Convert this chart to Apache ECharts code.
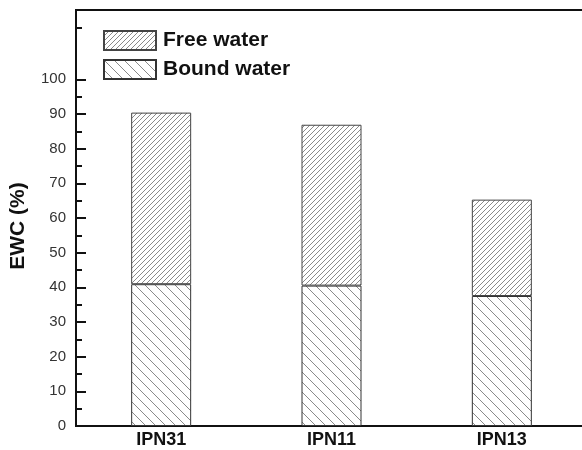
<!DOCTYPE html>
<html>
<head>
<meta charset="utf-8">
<script src="https://cdn.jsdelivr.net/npm/echarts@6/dist/echarts.min.js"></script>
<style>
  html, body { margin: 0; padding: 0; background: #fff; overflow: hidden; width: 582px; height: 450px; }
  #chart { width: 640px; height: 450px; }
</style>
</head>
<body>
<div id="chart"></div>
<script>
// Samples and measured water content (%)
const categories = ['IPN31', 'IPN11', 'IPN13'];
const boundWater = [40.9, 40.5, 37.5];
const freeWater = [49.5, 46.4, 27.8];
const majorTicks = [0, 10, 20, 30, 40, 50, 60, 70, 80, 90, 100];
const minorTicks = [5, 15, 25, 35, 45, 55, 65, 75, 85, 95, 115];

const FONT = '"Liberation Sans", Arial, sans-serif';

// Build a small tile with one diagonal hatch line for pattern fills
function hatchTile(size, dir, color) {
  const c = document.createElement('canvas');
  c.width = size; c.height = size;
  const g = c.getContext('2d');
  g.fillStyle = '#ffffff';
  g.fillRect(0, 0, size, size);
  g.strokeStyle = color;
  g.lineWidth = 1;
  g.beginPath();
  if (dir === '/') {
    g.moveTo(0, size); g.lineTo(size, 0);
    g.moveTo(-1, 1); g.lineTo(1, -1);
    g.moveTo(size - 1, size + 1); g.lineTo(size + 1, size - 1);
  } else {
    g.moveTo(0, 0); g.lineTo(size, size);
    g.moveTo(size - 1, -1); g.lineTo(size + 1, 1);
    g.moveTo(-1, size - 1); g.lineTo(1, size + 1);
  }
  g.stroke();
  return c;
}

const freeFill = { image: hatchTile(5, '/', '#8a8a8a'), repeat: 'repeat' };
const boundFill = { image: hatchTile(10, '\\', '#8a8a8a'), repeat: 'repeat' };

const chart = echarts.init(document.getElementById('chart'), null, { renderer: 'canvas' });

chart.setOption({
  backgroundColor: '#ffffff',
  animation: false,
  // plot frame runs past the right edge of the visible area
  grid: {
    left: 76, right: 53, top: 10, bottom: 24,
    show: true, borderColor: '#111', borderWidth: 2, backgroundColor: 'transparent'
  },
  legend: {
    orient: 'vertical',
    left: 103, top: 30,
    padding: 0,
    itemGap: 8,
    itemWidth: 52, itemHeight: 19,
    icon: 'rect',
    data: ['Free water', 'Bound water'],
    textStyle: { fontFamily: FONT, fontSize: 21, fontWeight: 'bold', color: '#111', lineHeight: 19, padding: [0, 0, 0, 2] }
  },
  xAxis: {
    type: 'category',
    data: categories,
    axisLine: { lineStyle: { color: '#111', width: 2 } },
    axisTick: { show: false },
    axisLabel: { fontFamily: FONT, fontSize: 18, fontWeight: 'bold', color: '#111', margin: 5 },
    splitLine: { show: false }
  },
  yAxis: [
    {
      type: 'value', min: 0, max: 120, interval: 10,
      axisLine: { show: true, lineStyle: { color: '#111', width: 2 } },
      axisTick: { show: true, inside: true, length: 10, lineStyle: { color: '#111', width: 2 }, customValues: majorTicks },
      axisLabel: { fontFamily: FONT, fontSize: 15, color: '#333', margin: 10, customValues: majorTicks },
      splitLine: { show: false }
    },
    {
      type: 'value', min: 0, max: 120, position: 'left', offset: 0,
      axisLine: { show: false },
      axisTick: { show: true, inside: true, length: 6, lineStyle: { color: '#111', width: 2 }, customValues: minorTicks },
      axisLabel: { show: false },
      splitLine: { show: false }
    }
  ],
  graphic: [
    {
      type: 'text',
      x: 18, y: 226,
      rotation: Math.PI / 2,
      style: {
        text: 'EWC (%)',
        font: 'bold 21px ' + FONT,
        fill: '#111',
        align: 'center',
        verticalAlign: 'middle'
      }
    }
  ],
  series: [
    {
      name: 'Bound water',
      type: 'bar',
      stack: 'ewc',
      barWidth: 60,
      data: boundWater,
      itemStyle: { color: boundFill, borderColor: '#333', borderWidth: 1 }
    },
    {
      name: 'Free water',
      type: 'bar',
      stack: 'ewc',
      barWidth: 60,
      data: freeWater,
      itemStyle: { color: freeFill, borderColor: '#444', borderWidth: 1 }
    }
  ]
});
</script>
</body>
</html>
